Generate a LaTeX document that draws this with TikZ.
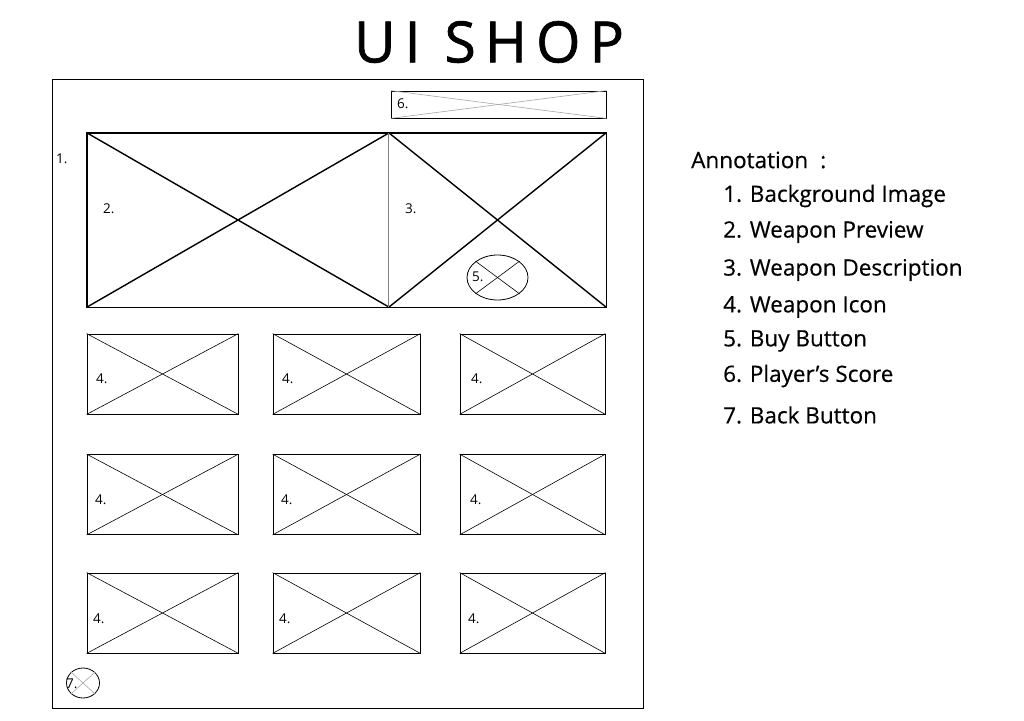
\documentclass[tikz,border=0pt]{standalone}
\usepackage{fontspec}
\usetikzlibrary{shapes.geometric}
\setmainfont{Open Sans}
\newfontfamily\titlefont[LetterSpace=16,FakeBold=1.2]{Open Sans}
\newfontfamily\annfont[FakeBold=0.4]{Open Sans}
\begin{document}
\begin{tikzpicture}[x=1pt,y=-1pt,
  frame/.style={draw,line width=0.8pt},
  wbox/.style={draw,line width=0.8pt,rectangle,inner sep=0pt},
  plainbox/.style={rectangle,inner sep=0pt},
  diag/.style={line width=0.6pt},
  thickdiag/.style={line width=1.4pt},
  graydiag/.style={line width=0.6pt,gray!70},
  lbl/.style={font=\fontsize{13.5}{15}\selectfont,inner sep=0pt,anchor=west},
  ann/.style={font=\annfont\fontsize{22.5}{26}\selectfont,inner sep=0pt,anchor=west}]
\useasboundingbox (0,0) rectangle (1024,720);
\fill[white] (0,0) rectangle (1024,720);
% title
\node[font=\titlefont\fontsize{57}{62}\selectfont,inner sep=0pt] (title) at (489,42) {UI SHOP};
% outer frame
\node[frame,rectangle,inner sep=0pt,minimum width=591pt,minimum height=629pt] (bg) at (347.5,393.5) {};
\node[lbl] (l1) at (56,159) {1.};
% score box
\node[wbox,minimum width=215pt,minimum height=27pt] (b6) at (498.5,104.5) {};
\draw[graydiag] (b6.north west) -- (b6.south east);
\draw[graydiag] (b6.south west) -- (b6.north east);
\node[lbl] (l6) at (397,104) {6.};
% preview box
\node[plainbox,minimum width=302pt,minimum height=174pt] (b2) at (238,220) {};
\draw[thickdiag] (b2.north east) -- (b2.north west) -- (b2.south west) -- (b2.south east);
\draw[thickdiag] (b2.north west) -- (b2.south east);
\draw[thickdiag] (b2.south west) -- (b2.north east);
\node[lbl] (l2) at (103,209) {2.};
% description box
\node[plainbox,minimum width=217pt,minimum height=174pt] (b3) at (497.5,220) {};
\draw[thickdiag] (b3.north west) -- (b3.north east) -- (b3.south east) -- (b3.south west);
\draw[thickdiag] (b3.north west) -- (b3.south east);
\draw[thickdiag] (b3.south west) -- (b3.north east);
\draw[line width=0.9pt,gray] (b3.north west) -- (b3.south west);
\node[lbl] (l3) at (405,209) {3.};
% buy button
\node[draw,ellipse,line width=0.8pt,minimum width=61pt,minimum height=45pt,inner sep=0pt,fill=white] (b5) at (497.5,277.5) {};
\draw[diag] (b5.north west) -- (b5.south east);
\draw[diag] (b5.south west) -- (b5.north east);
\node[lbl] (l5) at (472,277) {5.};
% icon grid
\foreach \cx/\w/\lx [count=\i] in {162.5/151/96, 346.5/147/282, 532.5/145/471}{
  \foreach \cy/\ly/\dx [count=\j] in {374/379/0, 494.5/500/-1, 613/619/-3}{
    \node[wbox,minimum width=\w pt,minimum height=80pt] (g\i\j) at (\cx,\cy) {};
    \draw[diag] (g\i\j.north west) -- (g\i\j.south east);
    \draw[diag] (g\i\j.south west) -- (g\i\j.north east);
    \node[lbl] (gl\i\j) at (\lx+\dx,\ly) {4.};
  }
}
% back button
\node[draw,ellipse,line width=0.8pt,minimum width=33pt,minimum height=30pt,inner sep=0pt] (b7) at (83,683) {};
\draw[graydiag] (b7.north west) -- (b7.south east);
\draw[graydiag] (b7.south west) -- (b7.north east);
\node[lbl] (l7) at (66,684) {7.};
% annotation
\node[ann] (a0) at (691,160) {Annotation \;:};
\node[ann] (a1) at (723,196) {1. Background Image};
\node[ann] (a2) at (723,232) {2. Weapon Preview};
\node[ann] (a3) at (723,270) {3. Weapon Description};
\node[ann] (a4) at (723,307) {4. Weapon Icon};
\node[ann] (a5) at (723,341) {5. Buy Button};
\node[ann] (a6) at (723,376) {6. Player’s Score};
\node[ann] (a7) at (723,415) {7. Back Button};
\end{tikzpicture}
\end{document}
